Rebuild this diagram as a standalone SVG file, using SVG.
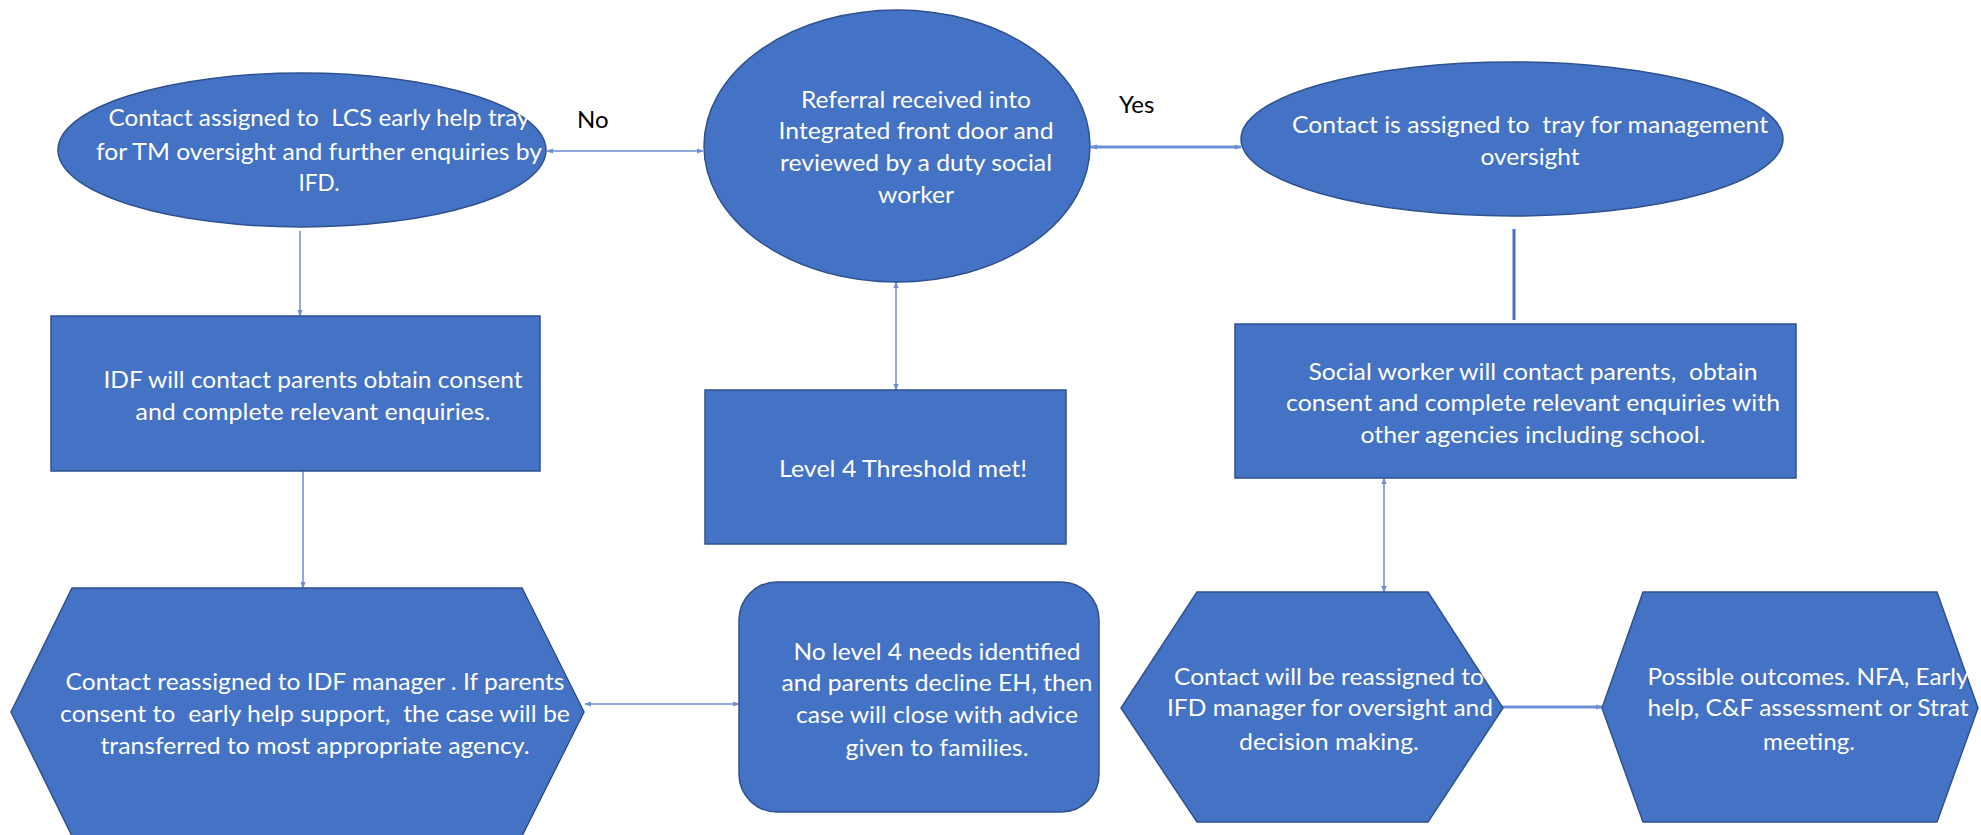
<svg xmlns="http://www.w3.org/2000/svg" width="1981" height="835" viewBox="0 0 1981 835">
<style>
.node{fill:#4472C4;stroke:#2F528F;stroke-width:1.5}
.t{font-family:Lato,"Open Sans","Liberation Sans",sans-serif;font-size:24px;fill:#FFFFFF;text-anchor:middle;white-space:pre}
.lbl{font-family:Lato,"Open Sans","Liberation Sans",sans-serif;font-size:24px;fill:#000000}
.c{fill:none;stroke:#8FAADC;stroke-width:2}
.c2{fill:none;stroke:#6F8FD5;stroke-width:3}
.c3{fill:none;stroke:#4472C4;stroke-width:3}
</style>
<defs>
<marker id="ah" viewBox="0 0 8 8" refX="7" refY="4" markerWidth="7" markerHeight="7" markerUnits="userSpaceOnUse" orient="auto-start-reverse">
<path d="M0,1 L8,4 L0,7 Z" fill="#6F8FD5"/>
</marker>
</defs>
<rect x="0" y="0" width="1981" height="835" fill="#FFFFFF"/>
<g id="connectors">
<line class="c" x1="547" y1="151" x2="703" y2="151" marker-start="url(#ah)" marker-end="url(#ah)"/>
<line class="c2" x1="1091" y1="147" x2="1241" y2="147" marker-start="url(#ah)" marker-end="url(#ah)"/>
<line class="c" x1="300" y1="231" x2="300" y2="316" marker-end="url(#ah)"/>
<line class="c" x1="303" y1="471" x2="303" y2="588" marker-end="url(#ah)"/>
<line class="c" x1="896" y1="282" x2="896" y2="390" marker-start="url(#ah)" marker-end="url(#ah)"/>
<line class="c" x1="585" y1="704" x2="739" y2="704" marker-start="url(#ah)" marker-end="url(#ah)"/>
<line class="c3" x1="1514" y1="229" x2="1514" y2="320"/>
<line class="c" x1="1384" y1="478" x2="1384" y2="592" marker-start="url(#ah)" marker-end="url(#ah)"/>
<line class="c2" x1="1502" y1="707" x2="1602" y2="707" marker-end="url(#ah)"/>
<text class="lbl" x="577" y="128">No</text>
<text class="lbl" x="1119" y="113">Yes</text>
</g>
<g id="n-left-ellipse">
<ellipse class="node" cx="302" cy="150" rx="244" ry="77"/>
<text class="t" x="319" y="126" textLength="421" lengthAdjust="spacingAndGlyphs" xml:space="preserve">Contact assigned to  LCS early help tray</text>
<text class="t" x="319" y="160" textLength="446" lengthAdjust="spacingAndGlyphs">for TM oversight and further enquiries by</text>
<text class="t" x="319" y="191" textLength="41" lengthAdjust="spacingAndGlyphs">IFD.</text>
</g>
<g id="n-referral">
<ellipse class="node" cx="897" cy="146" rx="193" ry="136"/>
<text class="t" x="916" y="108" textLength="230" lengthAdjust="spacingAndGlyphs">Referral received into</text>
<text class="t" x="916" y="139" textLength="275" lengthAdjust="spacingAndGlyphs">Integrated front door and</text>
<text class="t" x="916" y="171" textLength="272" lengthAdjust="spacingAndGlyphs">reviewed by a duty social</text>
<text class="t" x="916" y="203" textLength="76" lengthAdjust="spacingAndGlyphs">worker</text>
</g>
<g id="n-right-ellipse">
<ellipse class="node" cx="1512" cy="139" rx="271" ry="77"/>
<text class="t" x="1530" y="133" textLength="476" lengthAdjust="spacingAndGlyphs" xml:space="preserve">Contact is assigned to  tray for management</text>
<text class="t" x="1530" y="165" textLength="99" lengthAdjust="spacingAndGlyphs">oversight</text>
</g>
<g id="n-idf-contact">
<rect class="node" x="51" y="316" width="489" height="155"/>
<text class="t" x="313" y="388" textLength="419" lengthAdjust="spacingAndGlyphs">IDF will contact parents obtain consent</text>
<text class="t" x="313" y="420" textLength="355" lengthAdjust="spacingAndGlyphs">and complete relevant enquiries.</text>
</g>
<g id="n-level4">
<rect class="node" x="705" y="390" width="361" height="154"/>
<text class="t" x="903" y="477" textLength="248" lengthAdjust="spacingAndGlyphs">Level 4 Threshold met!</text>
</g>
<g id="n-social-worker">
<rect class="node" x="1235" y="324" width="561" height="154"/>
<text class="t" x="1533" y="380" textLength="449" lengthAdjust="spacingAndGlyphs" xml:space="preserve">Social worker will contact parents,  obtain</text>
<text class="t" x="1533" y="411" textLength="494" lengthAdjust="spacingAndGlyphs">consent and complete relevant enquiries with</text>
<text class="t" x="1533" y="443" textLength="345" lengthAdjust="spacingAndGlyphs">other agencies including school.</text>
</g>
<g id="n-idf-manager">
<polygon class="node" points="72,588 522,588 584,712 522,836 72,836 11,712"/>
<text class="t" x="315" y="690" textLength="499" lengthAdjust="spacingAndGlyphs">Contact reassigned to IDF manager . If parents</text>
<text class="t" x="315" y="722" textLength="510" lengthAdjust="spacingAndGlyphs" xml:space="preserve">consent to  early help support,  the case will be</text>
<text class="t" x="315" y="754" textLength="429" lengthAdjust="spacingAndGlyphs">transferred to most appropriate agency.</text>
</g>
<g id="n-close">
<rect class="node" x="739" y="582" width="360" height="230" rx="38" ry="38"/>
<text class="t" x="937" y="660" textLength="287" lengthAdjust="spacingAndGlyphs">No level 4 needs identified</text>
<text class="t" x="937" y="691" textLength="311" lengthAdjust="spacingAndGlyphs">and parents decline EH, then</text>
<text class="t" x="937" y="723" textLength="282" lengthAdjust="spacingAndGlyphs">case will close with advice</text>
<text class="t" x="937" y="756" textLength="183" lengthAdjust="spacingAndGlyphs">given to families.</text>
</g>
<g id="n-ifd-manager">
<polygon class="node" points="1197,592 1428,592 1503,708 1428,822 1197,822 1121,708"/>
<text class="t" x="1329" y="685" textLength="310" lengthAdjust="spacingAndGlyphs">Contact will be reassigned to</text>
<text class="t" x="1330" y="716" textLength="326" lengthAdjust="spacingAndGlyphs">IFD manager for oversight and</text>
<text class="t" x="1329" y="750" textLength="180" lengthAdjust="spacingAndGlyphs">decision making.</text>
</g>
<g id="n-outcomes">
<polygon class="node" points="1643,592 1937,592 1978,708 1937,822 1643,822 1602,708"/>
<text class="t" x="1808" y="685" textLength="321" lengthAdjust="spacingAndGlyphs">Possible outcomes. NFA, Early</text>
<text class="t" x="1808" y="716" textLength="321" lengthAdjust="spacingAndGlyphs">help, C&amp;F assessment or Strat</text>
<text class="t" x="1809" y="750" textLength="92" lengthAdjust="spacingAndGlyphs">meeting.</text>
</g>
</svg>
